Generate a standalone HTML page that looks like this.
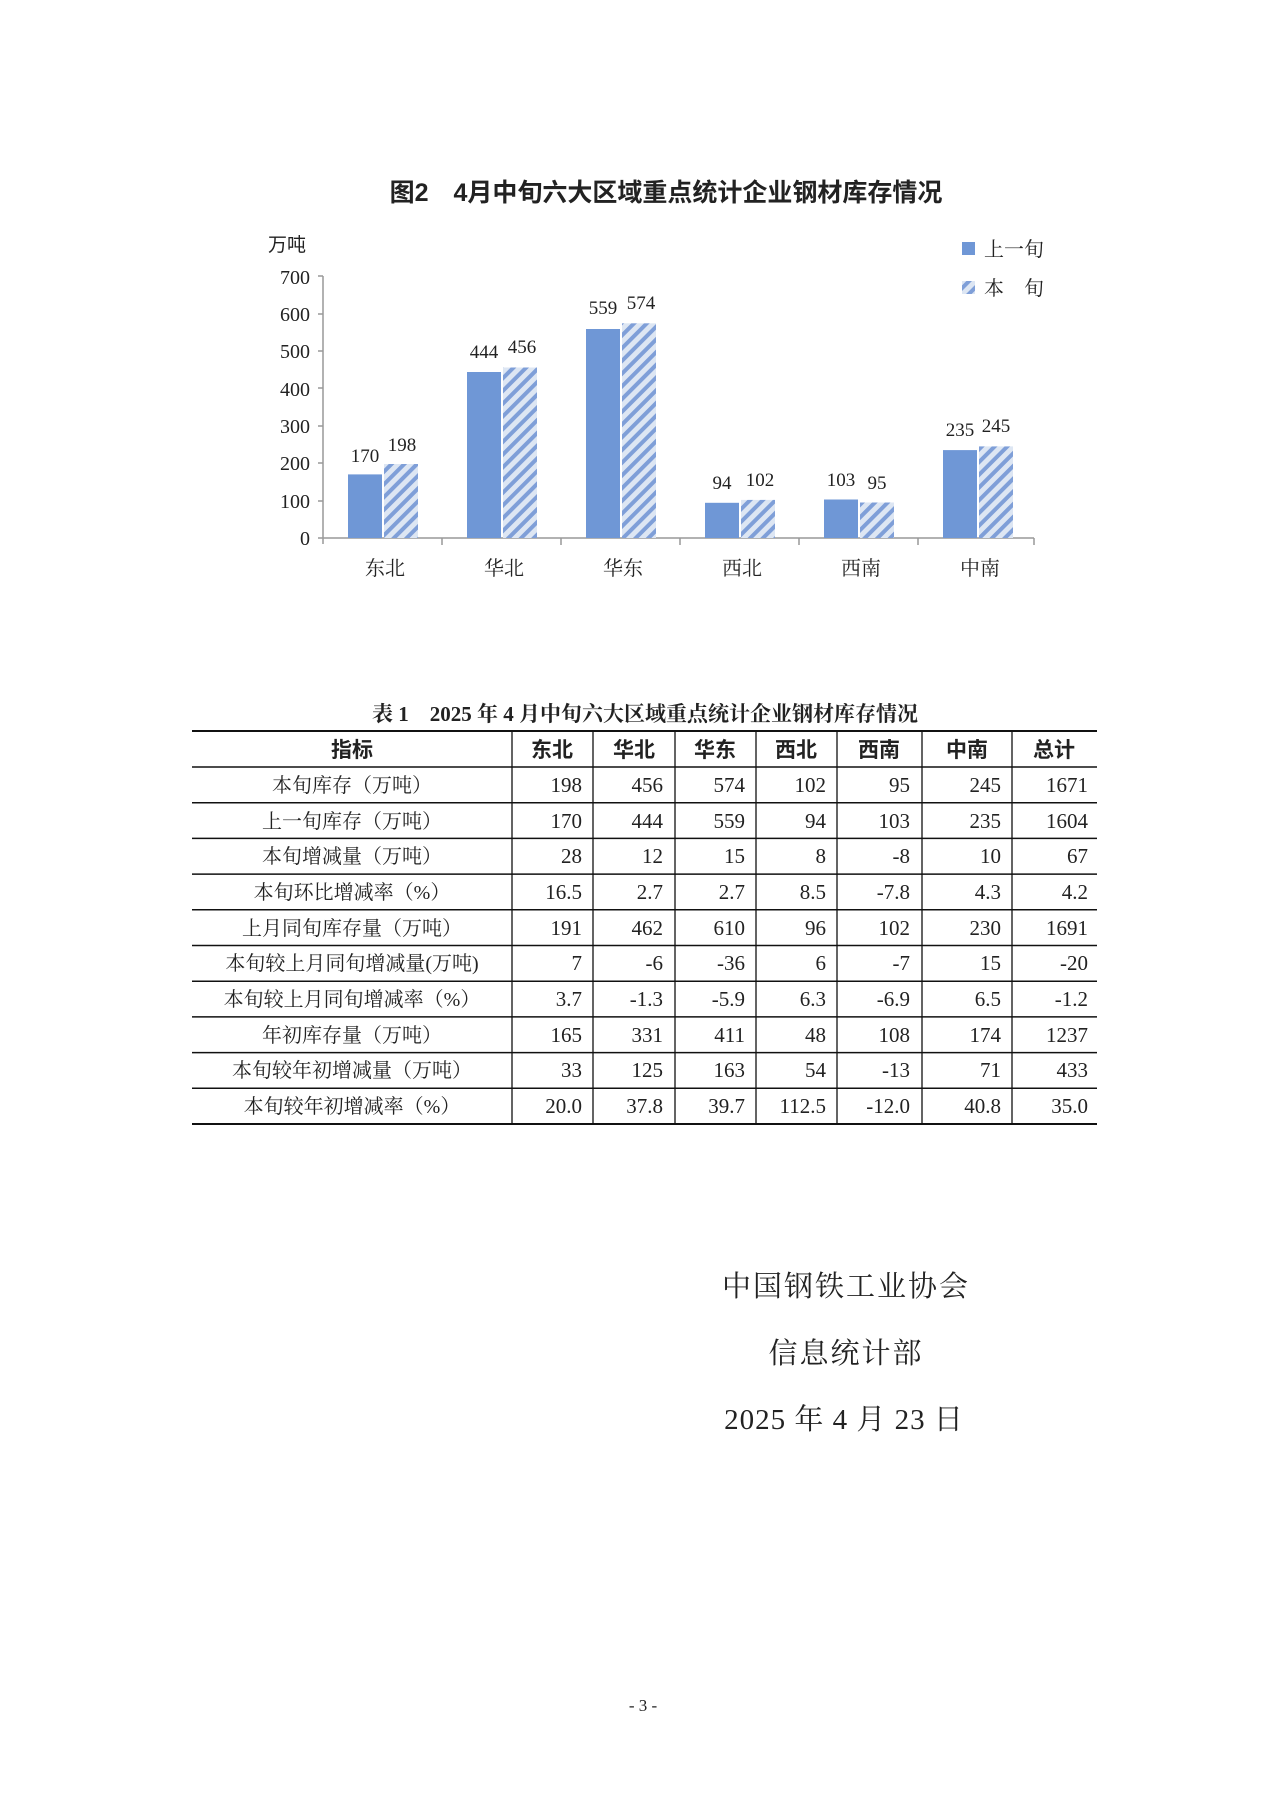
<!DOCTYPE html>
<html><head><meta charset="utf-8"><style>
body{margin:0;background:#fff;}
svg text{font-family:"Liberation Serif","Noto Serif CJK SC",serif;fill:#222;}
.s{font-family:"Liberation Sans","Noto Sans CJK SC",sans-serif!important;}
</style></head><body>
<svg width="1280" height="1809" viewBox="0 0 1280 1809" xmlns="http://www.w3.org/2000/svg">
<defs>
<pattern id="h" patternUnits="userSpaceOnUse" width="9" height="9" patternTransform="rotate(45)">
<rect width="9" height="9" fill="#dde6f3"/><rect width="4" height="9" fill="#7f9fd8"/>
</pattern>
</defs>
<rect width="1280" height="1809" fill="#fff"/>
<text x="666" y="201" font-size="25" font-weight="bold" text-anchor="middle" class="s">图2　4月中旬六大区域重点统计企业钢材库存情况</text>
<text x="268" y="251" font-size="19" class="s">万吨</text>
<g font-size="20" text-anchor="end">
<text x="310" y="545">0</text><text x="310" y="508">100</text><text x="310" y="470">200</text><text x="310" y="433">300</text><text x="310" y="396">400</text><text x="310" y="358">500</text><text x="310" y="321">600</text><text x="310" y="284">700</text>
</g>
<g stroke="#999" stroke-width="1.5">
<line x1="323" y1="276" x2="323" y2="544"/>
<line x1="318" y1="538" x2="1034" y2="538"/>
<line x1="318" y1="276" x2="323" y2="276"/><line x1="318" y1="314" x2="323" y2="314"/><line x1="318" y1="351" x2="323" y2="351"/><line x1="318" y1="388" x2="323" y2="388"/><line x1="318" y1="426" x2="323" y2="426"/><line x1="318" y1="463" x2="323" y2="463"/><line x1="318" y1="501" x2="323" y2="501"/>
<line x1="442" y1="538" x2="442" y2="545"/><line x1="561" y1="538" x2="561" y2="545"/><line x1="680" y1="538" x2="680" y2="545"/><line x1="799" y1="538" x2="799" y2="545"/><line x1="918" y1="538" x2="918" y2="545"/><line x1="1034" y1="538" x2="1034" y2="545"/>
</g>
<g fill="#6f97d6">
<rect x="348" y="474.4" width="34" height="63.6"/>
<rect x="467" y="372" width="34" height="166"/>
<rect x="586" y="329" width="34" height="209"/>
<rect x="705" y="502.8" width="34" height="35.2"/>
<rect x="824" y="499.5" width="34" height="38.5"/>
<rect x="943" y="450.1" width="34" height="87.9"/>
</g>
<g fill="url(#h)">
<rect x="384" y="464" width="34" height="74"/>
<rect x="503" y="367.5" width="34" height="170.5"/>
<rect x="622" y="323.3" width="34" height="214.7"/>
<rect x="741" y="499.9" width="34" height="38.1"/>
<rect x="860" y="502.5" width="34" height="35.5"/>
<rect x="979" y="446.4" width="34" height="91.6"/>
</g>
<g font-size="19" text-anchor="middle">
<text x="365" y="462">170</text><text x="402" y="451">198</text>
<text x="484" y="358">444</text><text x="522" y="353">456</text>
<text x="603" y="314">559</text><text x="641" y="309">574</text>
<text x="722" y="489">94</text><text x="760" y="486">102</text>
<text x="841" y="486">103</text><text x="877" y="489">95</text>
<text x="960" y="436">235</text><text x="996" y="432">245</text>
</g>
<g font-size="20" text-anchor="middle">
<text x="385" y="575">东北</text><text x="504" y="575">华北</text><text x="623" y="575">华东</text><text x="742" y="575">西北</text><text x="861" y="575">西南</text><text x="980" y="575">中南</text>
</g>
<rect x="962" y="242" width="13" height="13" fill="#6f97d6"/>
<rect x="962" y="281" width="13" height="13" fill="url(#h)"/>
<text x="984" y="256" font-size="20">上一旬</text>
<text x="984" y="295" font-size="20">本　旬</text>

<text x="645" y="721" font-size="21" text-anchor="middle" font-weight="bold">表 1　2025 年 4 月中旬六大区域重点统计企业钢材库存情况</text>
<g stroke="#111">
<line x1="192" y1="731" x2="1097" y2="731" stroke-width="2"/>
<line x1="192" y1="1124" x2="1097" y2="1124" stroke-width="2"/>
<line x1="512" y1="731" x2="512" y2="1124" stroke-width="1.3"/><line x1="593" y1="731" x2="593" y2="1124" stroke-width="1.3"/><line x1="675" y1="731" x2="675" y2="1124" stroke-width="1.3"/><line x1="756" y1="731" x2="756" y2="1124" stroke-width="1.3"/><line x1="837" y1="731" x2="837" y2="1124" stroke-width="1.3"/><line x1="922" y1="731" x2="922" y2="1124" stroke-width="1.3"/><line x1="1012" y1="731" x2="1012" y2="1124" stroke-width="1.3"/>
<g stroke-width="1.5">
<line x1="192" y1="767" x2="1097" y2="767"/><line x1="192" y1="802.7" x2="1097" y2="802.7"/><line x1="192" y1="838.4" x2="1097" y2="838.4"/><line x1="192" y1="874.1" x2="1097" y2="874.1"/><line x1="192" y1="909.8" x2="1097" y2="909.8"/><line x1="192" y1="945.5" x2="1097" y2="945.5"/><line x1="192" y1="981.2" x2="1097" y2="981.2"/><line x1="192" y1="1016.9" x2="1097" y2="1016.9"/><line x1="192" y1="1052.6" x2="1097" y2="1052.6"/><line x1="192" y1="1088.3" x2="1097" y2="1088.3"/>
</g></g>
<g font-size="21" text-anchor="middle" class="s" font-weight="bold">
<text x="352" y="757" class="s">指标</text><text x="552" y="757" class="s">东北</text><text x="634" y="757" class="s">华北</text><text x="715" y="757" class="s">华东</text><text x="796" y="757" class="s">西北</text><text x="879" y="757" class="s">西南</text><text x="967" y="757" class="s">中南</text><text x="1054" y="757" class="s">总计</text>
</g>
<g font-size="20" text-anchor="middle">
<text x="352" y="792">本旬库存（万吨）</text>
<text x="352" y="828">上一旬库存（万吨）</text>
<text x="352" y="863">本旬增减量（万吨）</text>
<text x="352" y="899">本旬环比增减率（%）</text>
<text x="352" y="935">上月同旬库存量（万吨）</text>
<text x="352" y="970">本旬较上月同旬增减量(万吨)</text>
<text x="352" y="1006">本旬较上月同旬增减率（%）</text>
<text x="352" y="1042">年初库存量（万吨）</text>
<text x="352" y="1077">本旬较年初增减量（万吨）</text>
<text x="352" y="1113">本旬较年初增减率（%）</text>
</g>
<g font-size="21" text-anchor="end">
<g transform="translate(0,792)"><text x="582">198</text><text x="663">456</text><text x="745">574</text><text x="826">102</text><text x="910">95</text><text x="1001">245</text><text x="1088">1671</text></g>
<g transform="translate(0,828)"><text x="582">170</text><text x="663">444</text><text x="745">559</text><text x="826">94</text><text x="910">103</text><text x="1001">235</text><text x="1088">1604</text></g>
<g transform="translate(0,863)"><text x="582">28</text><text x="663">12</text><text x="745">15</text><text x="826">8</text><text x="910">-8</text><text x="1001">10</text><text x="1088">67</text></g>
<g transform="translate(0,899)"><text x="582">16.5</text><text x="663">2.7</text><text x="745">2.7</text><text x="826">8.5</text><text x="910">-7.8</text><text x="1001">4.3</text><text x="1088">4.2</text></g>
<g transform="translate(0,935)"><text x="582">191</text><text x="663">462</text><text x="745">610</text><text x="826">96</text><text x="910">102</text><text x="1001">230</text><text x="1088">1691</text></g>
<g transform="translate(0,970)"><text x="582">7</text><text x="663">-6</text><text x="745">-36</text><text x="826">6</text><text x="910">-7</text><text x="1001">15</text><text x="1088">-20</text></g>
<g transform="translate(0,1006)"><text x="582">3.7</text><text x="663">-1.3</text><text x="745">-5.9</text><text x="826">6.3</text><text x="910">-6.9</text><text x="1001">6.5</text><text x="1088">-1.2</text></g>
<g transform="translate(0,1042)"><text x="582">165</text><text x="663">331</text><text x="745">411</text><text x="826">48</text><text x="910">108</text><text x="1001">174</text><text x="1088">1237</text></g>
<g transform="translate(0,1077)"><text x="582">33</text><text x="663">125</text><text x="745">163</text><text x="826">54</text><text x="910">-13</text><text x="1001">71</text><text x="1088">433</text></g>
<g transform="translate(0,1113)"><text x="582">20.0</text><text x="663">37.8</text><text x="745">39.7</text><text x="826">112.5</text><text x="910">-12.0</text><text x="1001">40.8</text><text x="1088">35.0</text></g>
</g>
<text x="846" y="1296" font-size="29" text-anchor="middle" letter-spacing="2">中国钢铁工业协会</text>
<text x="846" y="1363" font-size="29" text-anchor="middle" letter-spacing="2">信息统计部</text>
<text x="844" y="1429" font-size="29" text-anchor="middle" letter-spacing="1">2025 年 4 月 23 日</text>
<text x="643" y="1711" font-size="17" text-anchor="middle">- 3 -</text>
</svg>
</body></html>
